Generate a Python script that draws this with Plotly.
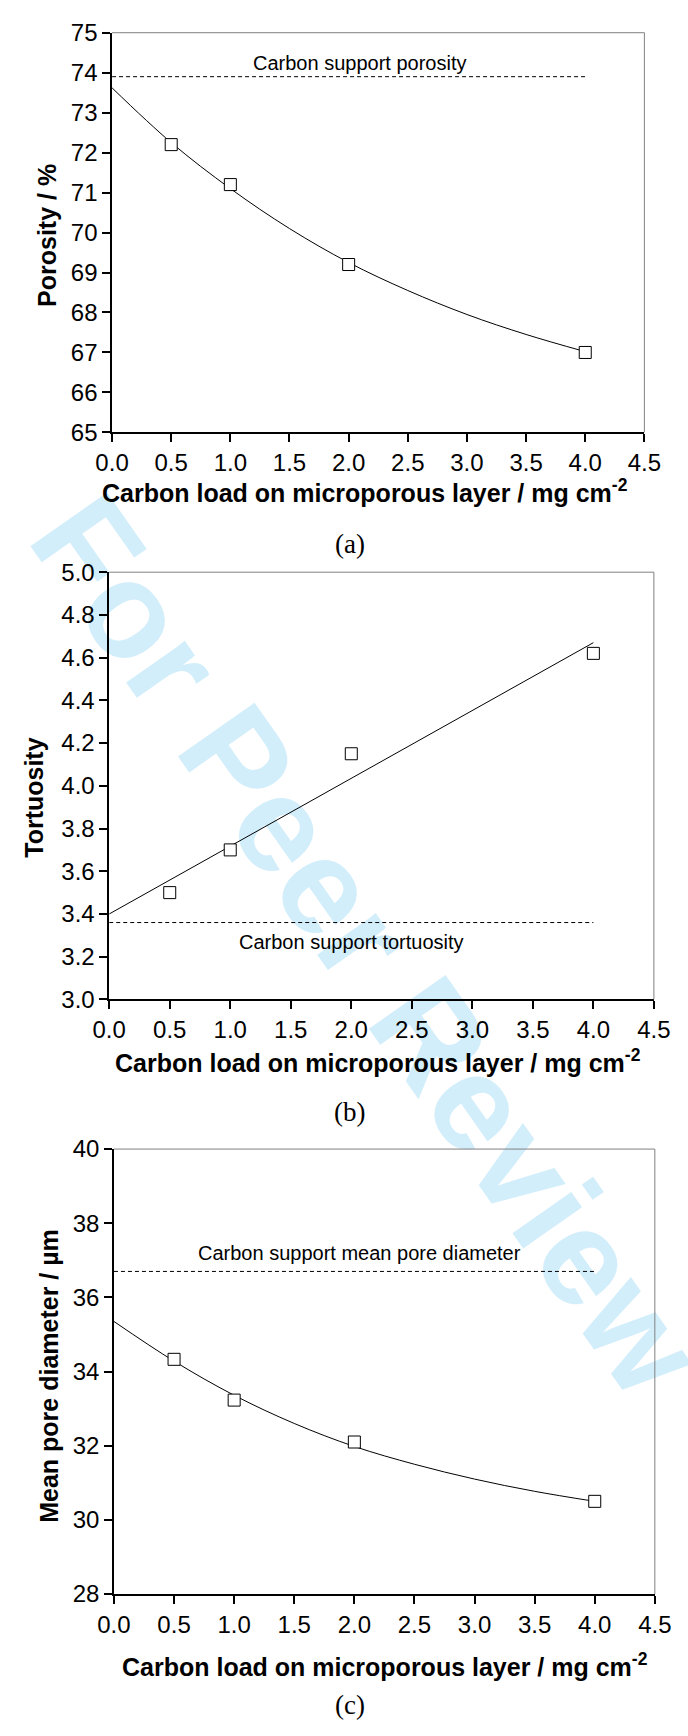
import math
import plotly.graph_objects as go

W, H = 688, 1736

# ---------------- data ----------------
load_x = [0.5, 1.0, 2.0, 4.0]

porosity = [72.2, 71.2, 69.2, 67.0]
porosity_fit_x = [0.0, 0.5, 1.0, 1.5, 2.0, 2.5, 3.0, 3.5, 4.0]
porosity_fit_y = [73.62, 72.25, 71.10, 70.10, 69.25, 68.55, 67.95, 67.45, 67.02]
porosity_support = 73.9

tortuosity = [3.50, 3.70, 4.15, 4.62]
tortuosity_fit_x = [0.0, 4.0]
tortuosity_fit_y = [3.40, 4.67]
tortuosity_support = 3.36

diameter = [34.33, 33.23, 32.10, 30.50]
diameter_fit_x = [0.0, 0.5, 1.0, 1.5, 2.0, 2.5, 3.0, 3.5, 4.0]
diameter_fit_y = [35.35, 34.28, 33.36, 32.60, 31.98, 31.50, 31.10, 30.77, 30.50]
diameter_support = 36.7

support_x = [0.0, 4.0]

x_ticks = [0.0, 0.5, 1.0, 1.5, 2.0, 2.5, 3.0, 3.5, 4.0, 4.5]
a_ticks = list(range(65, 76))
b_ticks = [3.0, 3.2, 3.4, 3.6, 3.8, 4.0, 4.2, 4.4, 4.6, 4.8, 5.0]
c_ticks = [28, 30, 32, 34, 36, 38, 40]

# ---------------- layout geometry (pixels) ----------------
def px_x(p):
    return p / W

def px_y(p):
    return 1 - p / H

panels = {
    "a": dict(x=(100, 660), y=(19, 425)),
    "b": dict(x=(97, 670), y=(567, 1001)),
    "c": dict(x=(102, 671), y=(1153, 1605)),
}

SANS = "Liberation Sans, Arial, Helvetica, sans-serif"
SERIF = "Liberation Serif, Times New Roman, serif"
TICKFONT = dict(family=SANS, size=24, color="black")
TITLEFONT = dict(family=SANS, size=25, color="black", weight="bold")
NOTEFONT = dict(family=SANS, size=20, color="black")

fig = go.Figure()

def add_panel(idx, xs, ys, fx, fy, sup):
    xa = "x" if idx == 1 else f"x{idx}"
    ya = "y" if idx == 1 else f"y{idx}"
    fig.add_trace(go.Scatter(x=support_x, y=[sup, sup], mode="lines",
                             line=dict(color="black", width=1, dash="4px,3px"),
                             xaxis=xa, yaxis=ya, showlegend=False, hoverinfo="skip"))
    fig.add_trace(go.Scatter(x=fx, y=fy, mode="lines", line_shape="spline",
                             line=dict(color="black", width=1),
                             xaxis=xa, yaxis=ya, showlegend=False))
    fig.add_trace(go.Scatter(x=xs, y=ys, mode="markers",
                             marker=dict(symbol="square", size=12, color="white",
                                         line=dict(color="black", width=1)),
                             xaxis=xa, yaxis=ya, showlegend=False))

add_panel(1, load_x, porosity, porosity_fit_x, porosity_fit_y, porosity_support)
add_panel(2, load_x, tortuosity, tortuosity_fit_x, tortuosity_fit_y, tortuosity_support)
add_panel(3, load_x, diameter, diameter_fit_x, diameter_fit_y, diameter_support)

layout = dict(
    width=W, height=H, margin=dict(l=0, r=0, t=0, b=0),
    paper_bgcolor="white", plot_bgcolor="rgba(0,0,0,0)",
    showlegend=False,
)

yinfo = {"a": ((65, 75), a_ticks, "d"), "b": ((3, 5), b_ticks, ".1f"), "c": ((28, 40), c_ticks, "d")}
shapes = []
for i, key in enumerate(["a", "b", "c"], start=1):
    p = panels[key]
    xname = "xaxis" if i == 1 else f"xaxis{i}"
    yname = "yaxis" if i == 1 else f"yaxis{i}"
    ya = "y" if i == 1 else f"y{i}"
    xa = "x" if i == 1 else f"x{i}"
    yr, yt, yf = yinfo[key]
    common = dict(showgrid=False, zeroline=False, showline=True, linecolor="black",
                  linewidth=1.5, ticks="outside", ticklen=8, tickwidth=1.5,
                  tickcolor="black", tickfont=TICKFONT, mirror=False)
    layout[xname] = dict(domain=[px_x(p["x"][0]), px_x(p["x"][1])], range=[0, 4.5],
                         tickmode="array", tickvals=x_ticks, tickformat=".1f",
                         anchor=ya, **common)
    layout[yname] = dict(domain=[px_y(p["y"][1]), px_y(p["y"][0])], range=list(yr),
                         tickmode="array", tickvals=yt, tickformat=yf,
                         anchor=xa, **common)
    xd = f"{xa} domain"
    yd = f"{ya} domain"
    shapes.append(dict(type="line", xref=xd, yref=yd, x0=0, x1=1, y0=1, y1=1,
                       line=dict(color="#808080", width=1)))
    shapes.append(dict(type="line", xref=xd, yref=yd, x0=1, x1=1, y0=0, y1=1,
                       line=dict(color="#808080", width=1)))

# watermark (behind everything)
cx, cy, ang = 380, 938, 54
dx, dy = 200 * math.cos(math.radians(ang)), 200 * math.sin(math.radians(ang))
shapes.append(dict(type="line", xref="paper", yref="paper", layer="below",
                   x0=px_x(cx - dx), y0=px_y(cy - dy), x1=px_x(cx + dx), y1=px_y(cy + dy),
                   line=dict(color="rgba(0,0,0,0)", width=0),
                   label=dict(text="For Peer Review", textposition="middle",
                              yanchor="middle", xanchor="center",
                              font=dict(family=SANS, size=136, color="#d3eefb",
                                        weight="bold"))))
layout["shapes"] = shapes

xtitle = "Carbon load on microporous layer / mg cm<sup>-2</sup>"
ann = []
# in-plot notes
ann.append(dict(x=2.09, y=74.24, xref="x", yref="y", text="Carbon support porosity",
                showarrow=False, font=NOTEFONT))
ann.append(dict(x=2.0, y=3.27, xref="x2", yref="y2", text="Carbon support tortuosity",
                showarrow=False, font=NOTEFONT))
ann.append(dict(x=2.04, y=37.21, xref="x3", yref="y3", text="Carbon support mean pore diameter",
                showarrow=False, font=NOTEFONT))
# axis titles
for (xc, yc) in [(366, 485), (380, 1064), (387, 1677)]:
    ann.append(dict(x=px_x(xc), y=px_y(yc), xref="paper", yref="paper", text=xtitle,
                    showarrow=False, font=TITLEFONT, xanchor="center", yanchor="middle"))
for (xc, yc, t) in [(31, 225, "Porosity / %"), (17, 796, "Tortuosity"),
                    (34, 1383, "Mean pore diameter / µm")]:
    ann.append(dict(x=px_x(xc), y=px_y(yc), xref="paper", yref="paper", text=t,
                    showarrow=False, font=TITLEFONT, textangle=-90,
                    xanchor="center", yanchor="middle"))
# panel labels
for (xc, yc, t) in [(350, 538, "(a)"), (350, 1115, "(b)"), (350, 1718, "(c)")]:
    ann.append(dict(x=px_x(xc), y=px_y(yc), xref="paper", yref="paper", text=t,
                    showarrow=False, font=dict(family=SERIF, size=27, color="black"),
                    xanchor="center", yanchor="middle"))
layout["annotations"] = ann

fig.update_layout(**layout)
fig.write_html("out.html")
